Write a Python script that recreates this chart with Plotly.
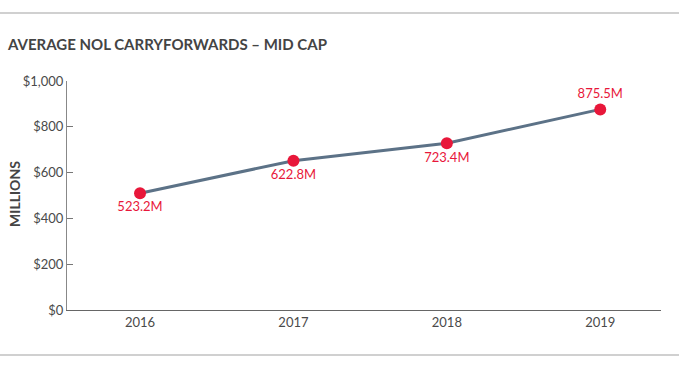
import plotly.graph_objects as go

years = ["2016", "2017", "2018", "2019"]
values = [510, 652, 728, 876]
labels = ["523.2M", "622.8M", "723.4M", "875.5M"]
label_pos = ["bottom center", "bottom center", "bottom center", "top center"]
y_ticks = [0, 200, 400, 600, 800, 1000]
y_tick_text = ["$0", "$200", "$400", "$600", "$800", "$1,000"]

W, H = 679, 368
L, R, T, B = 67, 18, 81, 58
pw, ph = W - L - R, H - T - B

def px(x):
    return (x - L) / pw

def py(y):
    return (H - B - y) / ph

fig = go.Figure()
fig.add_trace(go.Scatter(
    x=years, y=values, mode="lines+markers+text",
    line=dict(color="#5c7287", width=3),
    marker=dict(color="#e8173a", size=12),
    text=labels, textposition=label_pos,
    textfont=dict(family="Lato", size=13, color="#e8173a"),
    cliponaxis=False, hoverinfo="skip",
))

fig.update_layout(
    width=W, height=H,
    margin=dict(l=L, r=R, t=T, b=B),
    paper_bgcolor="white", plot_bgcolor="white",
    showlegend=False,
    font=dict(family="Lato", color="#444"),
    xaxis=dict(
        type="category", range=[-0.476, 3.396],
        showgrid=False, showline=True, linecolor="#666", linewidth=1,
        ticks="", tickfont=dict(size=13, color="#4a4a4a"),
        zeroline=False,
    ),
    yaxis=dict(
        range=[0, 1000], tickvals=y_ticks, ticktext=y_tick_text,
        showgrid=False, showline=True, linecolor="#888", linewidth=1,
        ticks="inside", ticklen=6, tickcolor="#777",
        tickfont=dict(size=13, color="#4a4a4a"), zeroline=False,
    ),
    shapes=[
        dict(type="line", xref="paper", yref="paper", x0=px(0), x1=px(W),
             y0=py(13), y1=py(13), line=dict(color="#d0d0d0", width=2)),
        dict(type="line", xref="paper", yref="paper", x0=px(0), x1=px(W),
             y0=py(355), y1=py(355), line=dict(color="#d0d0d0", width=2)),
    ],
    annotations=[
        dict(text="<b>AVERAGE NOL CARRYFORWARDS – MID CAP</b>", xref="paper", yref="paper",
             x=px(5), y=py(44), xanchor="left", yanchor="middle", showarrow=False,
             font=dict(family="Lato", size=15, color="#444")),
        dict(text="<b>MILLIONS</b>", xref="paper", yref="paper",
             x=px(14), y=py(194), xanchor="center", yanchor="middle", showarrow=False,
             textangle=-90, font=dict(family="Lato", size=14, color="#444")),
    ],
)

fig.write_html("out.html", config={"displayModeBar": False},
               post_script="document.body.style.margin='0';")
